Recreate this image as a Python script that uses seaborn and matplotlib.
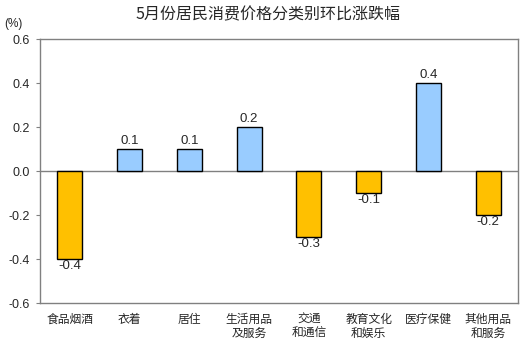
import matplotlib
matplotlib.use("Agg")
import matplotlib.pyplot as plt
import seaborn as sns
import pandas as pd

categories = ["食品烟酒", "衣着", "居住", "生活用品\n及服务", "交通\n和通信", "教育文化\n和娱乐", "医疗保健", "其他用品\n和服务"]
values = [-0.4, 0.1, 0.1, 0.2, -0.3, -0.1, 0.4, -0.2]
yticks = [-0.6, -0.4, -0.2, 0.0, 0.2, 0.4, 0.6]
title = "5月份居民消费价格分类别环比涨跌幅"

sns.set_theme(style="white")
plt.rcParams['font.family'] = ['Liberation Sans', 'Noto Sans CJK SC', 'DejaVu Sans']
plt.rcParams['axes.unicode_minus'] = False

df = pd.DataFrame({"cat": categories, "val": values})
df["sign"] = ["pos" if v >= 0 else "neg" for v in values]

fig = plt.figure(figsize=(5.25, 3.47), dpi=100)
ax = fig.add_axes([40/525, 1-303/347, 478/525, 264/347])

sns.barplot(data=df, x="cat", y="val", hue="sign", palette={"pos": "#99CCFF", "neg": "#FFC000"},
            dodge=False, edgecolor="black", linewidth=1, width=0.42, legend=False, ax=ax, saturation=1)

ax.set_ylim(-0.6, 0.6)
ax.set_yticks(yticks)
ax.set_yticklabels([f"{t:.1f}" for t in yticks], fontsize=9)
ax.set_xlim(-0.5, len(categories) - 0.5)
ax.set_xlabel("")
ax.set_ylabel("")
ax.tick_params(axis="y", length=3, width=0.8, color="#808080", pad=4, left=True)
ax.tick_params(axis="x", length=0, pad=7)
for lbl in ax.get_xticklabels():
    lbl.set_fontfamily(['Noto Sans CJK SC', 'DejaVu Sans'])
    lbl.set_fontsize(8.5)
    lbl.set_linespacing(1.1)
    lbl.set_verticalalignment("top")
for s in ax.spines.values():
    s.set_color("#808080")
    s.set_linewidth(1)
ax.axhline(0, color="#808080", linewidth=1, zorder=0.5)

for i, v in enumerate(values):
    if v >= 0:
        ax.annotate(f"{v:.1f}", (i, v), xytext=(0, 1.5), textcoords="offset points",
                    ha="center", va="bottom", fontsize=9.5)
    else:
        ax.annotate(f"{v:.1f}", (i, v), xytext=(0, -0.5), textcoords="offset points",
                    ha="center", va="top", fontsize=9.5)

fig.text(267.5/525, 1-14.5/347, title, ha="center", va="center", fontsize=11.5,
         family=['Noto Sans CJK SC', 'DejaVu Sans'], fontweight="medium")
fig.text(4/525, 1-24/347, "(%)", ha="left", va="center", fontsize=8.5)

fig.savefig("out.png", dpi=100)
